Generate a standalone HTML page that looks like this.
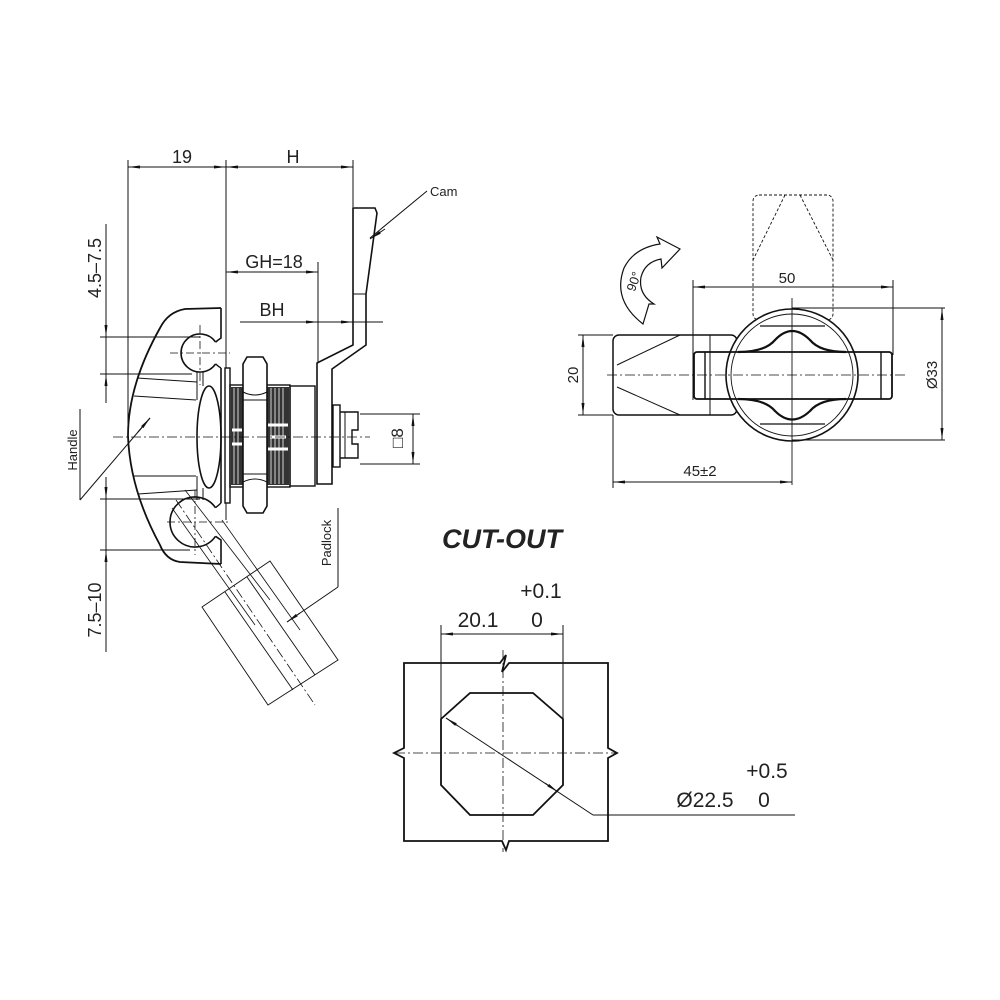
<!DOCTYPE html>
<html><head><meta charset="utf-8"><style>
html,body{margin:0;padding:0;background:#fff;}
svg{display:block;}
text{font-family:"Liberation Sans",sans-serif;fill:#222;}
</style></head><body>
<svg width="1000" height="1000" viewBox="0 0 1000 1000" xmlns="http://www.w3.org/2000/svg">
<defs>
<marker id="a" markerWidth="12" markerHeight="6" refX="12" refY="3" orient="auto" markerUnits="userSpaceOnUse"><path d="M0,1.5 L12,3 L0,4.5 Z" fill="#111"/></marker>
</defs>
<g stroke="#111" fill="none" stroke-width="1">
<!-- LEFT VIEW dims -->
<line x1="128" y1="160" x2="128" y2="425"/>
<line x1="226" y1="160" x2="226" y2="520"/>
<line x1="353" y1="160" x2="353" y2="207"/>
<line x1="140" y1="167" x2="128" y2="167" marker-end="url(#a)"/>
<line x1="200" y1="167" x2="226" y2="167" marker-end="url(#a)"/>
<line x1="128" y1="167" x2="226" y2="167"/>
<line x1="250" y1="167" x2="226" y2="167" marker-end="url(#a)"/>
<line x1="330" y1="167" x2="353" y2="167" marker-end="url(#a)"/>
<line x1="226" y1="167" x2="353" y2="167"/>
<line x1="226" y1="272" x2="318" y2="272"/>
<line x1="245" y1="272" x2="226" y2="272" marker-end="url(#a)"/>
<line x1="300" y1="272" x2="318" y2="272" marker-end="url(#a)"/>
<line x1="318" y1="262" x2="318" y2="363"/>
<line x1="240" y1="322" x2="383" y2="322"/>
<line x1="300" y1="322" x2="318" y2="322" marker-end="url(#a)"/>
<line x1="340" y1="322" x2="353" y2="322" marker-end="url(#a)"/>
<!-- cam -->
<path d="M353,208 L375,208 L377,213 L366,294 L366,345 L332,369 L332,484 L317,484 L317,363 L353,345 Z" stroke-width="1.6"/>
<line x1="353" y1="294" x2="366" y2="294"/>
<line x1="427" y1="191" x2="370" y2="238"/>
<line x1="385" y1="229" x2="370" y2="239" marker-end="url(#a)"/>
<!-- vertical dims left -->
<line x1="106" y1="224" x2="106" y2="403"/>
<line x1="106" y1="320" x2="106" y2="337" marker-end="url(#a)"/>
<line x1="106" y1="392" x2="106" y2="374" marker-end="url(#a)"/>
<line x1="100" y1="337" x2="200" y2="337"/>
<line x1="100" y1="374" x2="192" y2="374"/>
<line x1="106" y1="477" x2="106" y2="652"/>
<line x1="106" y1="482" x2="106" y2="499" marker-end="url(#a)"/>
<line x1="106" y1="566" x2="106" y2="550" marker-end="url(#a)"/>
<line x1="100" y1="499" x2="200" y2="499"/>
<line x1="100" y1="550" x2="190" y2="550"/>
<!-- handle leader -->
<line x1="80" y1="409" x2="80" y2="500"/>
<line x1="80" y1="500" x2="150" y2="418"/>
<line x1="138" y1="432" x2="150" y2="418" marker-end="url(#a)"/>
<!-- handle body -->
<path d="M221,308 L185,309 Q168,312 160,328 Q128,385 128,436 Q130,490 160,545 Q166,560 180,562 L221,564" stroke-width="1.8"/>
<path d="M221,308 L221,338 Q218,340 215.6,342.1" stroke-width="1.6"/>
<path d="M215.6,342.1 A19,19 0 1 0 215.6,363.9" stroke-width="1.6"/>
<path d="M215.6,363.9 Q219,367 221,368" stroke-width="1.4"/>
<path d="M215.5,507.7 A25,25 0 1 0 215.5,536.3" stroke-width="1.6"/>
<path d="M221,564 L221,540 Q218,538 215.5,536.3" stroke-width="1.6"/>
<path d="M215.5,507.7 Q219,505 221,503" stroke-width="1.4"/>
<ellipse cx="209" cy="437" rx="12" ry="51" stroke-width="1.6"/>
<line x1="137" y1="378" x2="197" y2="382"/>
<line x1="134" y1="396" x2="196" y2="400"/>
<line x1="134" y1="476" x2="196" y2="476"/>
<line x1="138" y1="494" x2="197" y2="490"/>
<line x1="197" y1="382" x2="197" y2="400"/>
<line x1="197" y1="476" x2="197" y2="490"/>
<line x1="197" y1="372" x2="197" y2="384"/><line x1="203" y1="372" x2="203" y2="386"/>
<line x1="197" y1="488" x2="197" y2="500"/><line x1="203" y1="488" x2="203" y2="500"/>
<line x1="221" y1="368" x2="221" y2="503" stroke-width="1.6"/>
<!-- washer, nut, thread -->
<rect x="225" y="368" width="5" height="135" stroke-width="1.4" fill="#fff"/>
<rect x="230" y="385" width="60" height="102" stroke-width="1.4"/>
<rect x="231" y="387" width="12" height="98" fill="#333" stroke="none"/>
<rect x="267" y="387" width="22" height="98" fill="#333" stroke="none"/>
<g stroke="#fff" stroke-width="0.8">
<line x1="234" y1="388" x2="234" y2="484"/><line x1="238" y1="388" x2="238" y2="484"/>
<line x1="271" y1="388" x2="271" y2="484"/><line x1="275" y1="388" x2="275" y2="484"/><line x1="279" y1="388" x2="279" y2="484"/><line x1="283" y1="388" x2="283" y2="484"/>
<path d="M268,425 L288,425 M270,437 L286,437 M268,449 L288,449" stroke-width="3"/>
<path d="M232,430 L242,430 M232,444 L242,444" stroke-width="3"/>
</g>
<path d="M243,364 L247,357 L263,357 L267,364 L267,506 L263,513 L247,513 L243,506 Z" stroke-width="1.6" fill="#fff"/>
<path d="M243,392 Q255,398 267,392 M243,482 Q255,476 267,482 M243,400 L267,400 M243,474 L267,474"/>
<rect x="290" y="386" width="25" height="100" stroke-width="1.4"/>
<rect x="333" y="405" width="7" height="62" stroke-width="1.4"/>
<path d="M340,412 L358,412 L358,430 L352,430 L352,444 L358,444 L358,458 L340,458" stroke-width="1.4"/>
<line x1="345" y1="412" x2="345" y2="458"/>
<!-- centerlines -->
<line x1="113" y1="437" x2="370" y2="437" stroke-dasharray="10,3,2,3" stroke-width="0.8"/>
<line x1="170" y1="353" x2="230" y2="353" stroke-dasharray="8,3,2,3" stroke-width="0.8"/>
<line x1="200" y1="325" x2="200" y2="385" stroke-dasharray="8,3,2,3" stroke-width="0.8"/>
<line x1="167" y1="522" x2="228" y2="522" stroke-dasharray="8,3,2,3" stroke-width="0.8"/>
<line x1="195" y1="490" x2="195" y2="555" stroke-dasharray="8,3,2,3" stroke-width="0.8"/>
<!-- 8 sq dim -->
<line x1="360" y1="414" x2="420" y2="414"/>
<line x1="360" y1="464" x2="420" y2="464"/>
<line x1="413" y1="414" x2="413" y2="464"/>
<line x1="413" y1="430" x2="413" y2="414" marker-end="url(#a)"/>
<line x1="413" y1="448" x2="413" y2="464" marker-end="url(#a)"/>
<!-- padlock -->
<path d="M202,607 L270,561 L338,660 L268,705 Z" stroke-width="0.9"/>
<line x1="225" y1="592" x2="293" y2="690" stroke-width="0.9"/>
<line x1="247" y1="577" x2="315" y2="675" stroke-width="0.9"/>
<line x1="185" y1="490" x2="270" y2="600" stroke-width="0.8"/>
<line x1="172" y1="508" x2="255" y2="625" stroke-width="0.8"/>
<line x1="222" y1="520" x2="300" y2="630" stroke-width="0.8"/>
<line x1="176" y1="500" x2="315" y2="705" stroke-width="0.8" stroke-dasharray="10,3,2,3"/>
<line x1="338" y1="508" x2="338" y2="587"/>
<line x1="338" y1="587" x2="287" y2="622"/>
<line x1="300" y1="613" x2="287" y2="622" marker-end="url(#a)"/>

<!-- RIGHT VIEW -->
<rect x="753" y="195" width="80" height="125" rx="6" stroke-dasharray="3,2" stroke-width="0.9"/>
<line x1="785" y1="195" x2="753" y2="260" stroke-dasharray="3,2" stroke-width="0.9"/>
<line x1="800" y1="195" x2="833" y2="260" stroke-dasharray="3,2" stroke-width="0.9"/>
<path d="M643,324 Q612,300 624,268 Q634,248 660,244 L657,237 L680,249 L662,268 L661,259 Q645,262 641,277 Q638,294 654,304 L649,304 Z" stroke-width="1.2" fill="#fff"/>
<line x1="693" y1="287" x2="893" y2="287"/>
<line x1="710" y1="287" x2="693" y2="287" marker-end="url(#a)"/>
<line x1="876" y1="287" x2="893" y2="287" marker-end="url(#a)"/>
<line x1="693" y1="280" x2="693" y2="400"/>
<line x1="893" y1="280" x2="893" y2="355"/>
<rect x="613" y="335" width="124" height="80" rx="6" stroke-width="1.5"/>
<line x1="710" y1="335" x2="710" y2="415"/>
<line x1="680" y1="335" x2="617" y2="365"/>
<line x1="617" y1="387" x2="680" y2="415"/>
<circle cx="792" cy="375" r="66" stroke-width="1.6" fill="#fff"/>
<circle cx="792" cy="375" r="61" stroke-width="0.9"/>
<path d="M738,352 Q765,352 775,340 Q792,322 810,340 Q820,352 846,352" stroke-width="2.2"/>
<path d="M738,399 Q765,399 775,411 Q792,428 810,411 Q820,399 846,399" stroke-width="2.2"/>
<path d="M760,326 L825,326 M760,424 L825,424" stroke-width="1.2"/>
<rect x="694" y="352" width="198" height="47" rx="3" stroke-width="1.8" fill="none"/>
<line x1="705" y1="352" x2="705" y2="399" stroke-width="1.4"/>
<line x1="881" y1="352" x2="881" y2="399" stroke-width="1.4"/>
<line x1="607" y1="375" x2="905" y2="375" stroke-dasharray="10,3,2,3" stroke-width="0.8"/>
<line x1="792" y1="298" x2="792" y2="485" stroke-width="0.9"/>
<line x1="792" y1="308" x2="945" y2="308"/>
<line x1="792" y1="440" x2="945" y2="440"/>
<line x1="942" y1="308" x2="942" y2="440"/>
<line x1="942" y1="325" x2="942" y2="308" marker-end="url(#a)"/>
<line x1="942" y1="423" x2="942" y2="440" marker-end="url(#a)"/>
<line x1="583" y1="335" x2="583" y2="415"/>
<line x1="583" y1="350" x2="583" y2="335" marker-end="url(#a)"/>
<line x1="583" y1="400" x2="583" y2="415" marker-end="url(#a)"/>
<line x1="578" y1="335" x2="613" y2="335"/>
<line x1="578" y1="415" x2="613" y2="415"/>
<line x1="613" y1="415" x2="613" y2="488"/>
<line x1="613" y1="482" x2="792" y2="482"/>
<line x1="630" y1="482" x2="613" y2="482" marker-end="url(#a)"/>
<line x1="775" y1="482" x2="792" y2="482" marker-end="url(#a)"/>

<!-- CUT-OUT -->
<path d="M404,663 L500,663 L506,655 L502,672 L509,663 L608,663 L608,748 L617,753 L608,758 L608,841 L509,841 L506,850 L502,841 L404,841 L404,758 L394,753 L404,748 Z" stroke-width="1.8"/>
<path d="M470,693 L533,693 L563,719 L563,785 L533,815 L470,815 L441,785 L441,719 Z" stroke-width="1.8"/>
<line x1="503" y1="650" x2="503" y2="852" stroke-dasharray="10,3,2,3" stroke-width="0.8"/>
<line x1="395" y1="753" x2="617" y2="753" stroke-dasharray="10,3,2,3" stroke-width="0.8"/>
<line x1="441" y1="625" x2="441" y2="730"/>
<line x1="563" y1="625" x2="563" y2="720"/>
<line x1="441" y1="634" x2="563" y2="634"/>
<line x1="458" y1="634" x2="441" y2="634" marker-end="url(#a)"/>
<line x1="546" y1="634" x2="563" y2="634" marker-end="url(#a)"/>
<line x1="446" y1="718" x2="593" y2="815"/>
<line x1="593" y1="815" x2="795" y2="815"/>
<line x1="458" y1="726" x2="446" y2="718" marker-end="url(#a)"/>
<line x1="545" y1="783" x2="558" y2="792" marker-end="url(#a)"/>
</g>

<!-- TEXT -->
<text x="182" y="163" font-size="18" text-anchor="middle">19</text>
<text x="293" y="163" font-size="18" text-anchor="middle">H</text>
<text x="274" y="268" font-size="18" text-anchor="middle">GH=18</text>
<text x="272" y="316" font-size="18" text-anchor="middle">BH</text>
<text x="430" y="196" font-size="13">Cam</text>
<text transform="translate(101,268) rotate(-90)" font-size="18" text-anchor="middle">4.5–7.5</text>
<text transform="translate(101,610) rotate(-90)" font-size="18" text-anchor="middle">7.5–10</text>
<text transform="translate(77,450) rotate(-90)" font-size="13" text-anchor="middle">Handle</text>
<text transform="translate(331,543) rotate(-90)" font-size="13" text-anchor="middle">Padlock</text>
<text transform="translate(403,438) rotate(-90)" font-size="17" text-anchor="middle">□8</text>
<text x="787" y="283" font-size="15" text-anchor="middle">50</text>
<text transform="translate(937,375) rotate(-90)" font-size="15" text-anchor="middle">Ø33</text>
<text transform="translate(578,375) rotate(-90)" font-size="15" text-anchor="middle">20</text>
<text x="700" y="476" font-size="15" text-anchor="middle">45±2</text>
<text transform="translate(638,283) rotate(-70)" font-size="13" text-anchor="middle">90°</text>
<text x="502" y="548" font-size="27" font-weight="bold" font-style="italic" text-anchor="middle">CUT-OUT</text>
<text x="541" y="598" font-size="21" text-anchor="middle">+0.1</text>
<text x="478" y="627" font-size="21" text-anchor="middle">20.1</text>
<text x="537" y="627" font-size="21" text-anchor="middle">0</text>
<text x="767" y="778" font-size="21" text-anchor="middle">+0.5</text>
<text x="705" y="807" font-size="21" text-anchor="middle">Ø22.5</text>
<text x="764" y="807" font-size="21" text-anchor="middle">0</text>
</svg>
</body></html>
